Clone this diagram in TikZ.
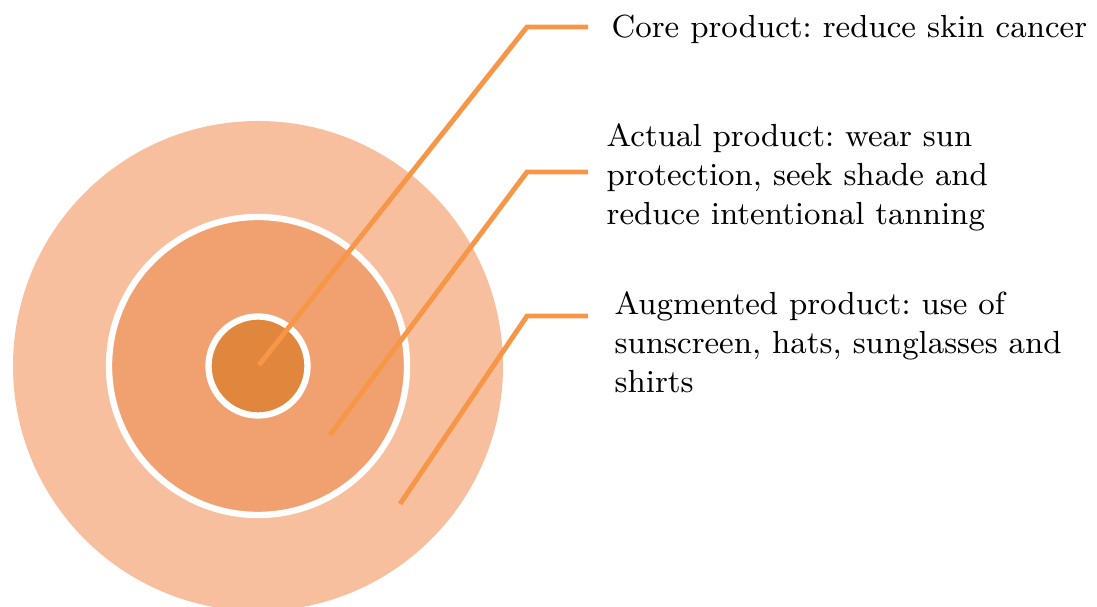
\documentclass[tikz,border=0pt]{standalone}
\usepackage{tikz}
\usetikzlibrary{calc}

\definecolor{ringout}{HTML}{F8BF9F}
\definecolor{ringmid}{HTML}{F0A16F}
\definecolor{ringin}{HTML}{E0873D}
\definecolor{leadcol}{HTML}{F79646}

\begin{document}
\begin{tikzpicture}[leader/.style={draw=leadcol, line width=1.4pt},
	ringedge/.style={draw=white, line width=1.8pt},
	levtext/.style={anchor=north west, align=left, inner sep=0pt, font=\fontsize{9.1}{11.1}\selectfont\frenchspacing}]

	\useasboundingbox (0,0) rectangle (10.97,6.07);

	% the three levels of the product
	\coordinate (C) at (2.58,2.41);
	\fill[ringout] (C) circle (2.45);
	\fill[ringmid] (C) circle (1.49);
	\draw[ringedge] (C) circle (1.49);
	\fill[ringin] (C) circle (0.495);
	\draw[ringedge] (C) circle (0.495);

	\node (core)[levtext] at (6.11,5.93) {Core product: reduce skin cancer};
	\node (actual)[levtext] at (6.06,4.84) {Actual product: wear sun\\protection, seek shade and\\reduce intentional tanning};
	\node (augm)[levtext] at (6.14,3.16) {Augmented product: use of\\sunscreen, hats, sunglasses and\\shirts};

	\coordinate (P1) at (2.59,2.42);
	\coordinate (K1) at (5.27,5.80);
	\coordinate (E1) at (5.88,5.80);
	\coordinate (P2) at (3.30,1.72);
	\coordinate (K2) at (5.27,4.35);
	\coordinate (E2) at (5.88,4.35);
	\coordinate (P3) at (4.00,1.03);
	\coordinate (K3) at (5.27,2.91);
	\coordinate (E3) at (5.88,2.91);

	\draw[leader] (P1) -- (K1) -- (E1);
	\draw[leader] (P2) -- (K2) -- (E2);
	\draw[leader] (P3) -- (K3) -- (E3);

\end{tikzpicture}
\end{document}
